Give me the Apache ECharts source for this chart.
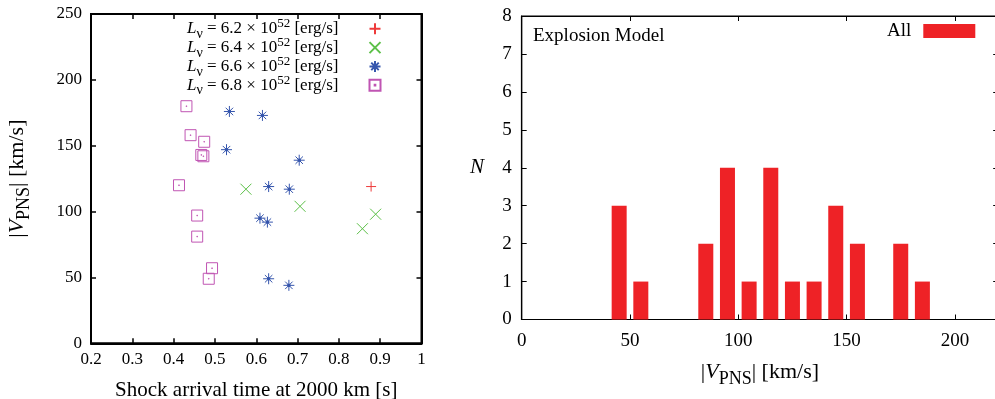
<!DOCTYPE html>
<html><head><meta charset="utf-8">
<script src="https://cdn.jsdelivr.net/npm/echarts@6/dist/echarts.min.js"></script>
<style>html,body{margin:0;padding:0;background:#fff}#c{width:995px;height:399px}</style>
</head><body><div id="c"></div>
<script>
// ---- data ----
const luminosityLabels = ['6.2', '6.4', '6.6', '6.8'];
const arrivalL62 = [0.878];
const velocityL62 = [119];
const arrivalL64 = [0.575, 0.706, 0.889, 0.857];
const velocityL64 = [117, 104, 98, 87];
const arrivalL66 = [0.535, 0.615, 0.528, 0.704, 0.630, 0.680, 0.609, 0.627, 0.630, 0.679];
const velocityL66 = [176, 173, 147, 139, 119, 117, 95, 92, 49, 44];
const arrivalL68 = [0.431, 0.441, 0.474, 0.467, 0.472, 0.413, 0.457, 0.457, 0.493, 0.485];
const velocityL68 = [180, 158, 153, 143, 142, 120, 97, 81, 57, 49];
const binCenters = [45, 55, 85, 95, 105, 115, 125, 135, 145, 155, 175, 185];
const binCounts = [3, 1, 2, 4, 1, 4, 1, 1, 3, 2, 2, 1];
const histLegend = 'All';
const panelText = 'Explosion Model';

// ---- styling ----
const FONT = 'Liberation Serif';
const colors = ['#ee3b3b', '#5cc048', '#3656ad', '#c055b3'];
const symbols = [
  'path://M0,5L10,5M5,0L5,10',
  'path://M0,0L10,10M0,10L10,0',
  'path://M0,5L10,5M5,0L5,10M1.6,1.6L8.4,8.4M1.6,8.4L8.4,1.6M4,4L6,4L6,6L4,6Z',
  'path://M0,0L10,0L10,10L0,10ZM4.7,4.7L5.3,4.7L5.3,5.3L4.7,5.3Z'
];
const symbolFill = ['transparent', 'transparent', '#3656ad', 'transparent'];
const symbolSizes = [10, 11, 11, 11];
const arrivals = [arrivalL62, arrivalL64, arrivalL66, arrivalL68];
const velocities = [velocityL62, velocityL64, velocityL66, velocityL68];

const zip = (xs, ys) => xs.map((x, i) => [x, ys[i]]);

const nameRich = {
  v: { fontFamily: FONT, fontSize: 22, fontStyle: 'italic', lineHeight: 24, color: '#000' },
  s: { fontFamily: FONT, fontSize: 18, lineHeight: 18, padding: [15, 0, 0, 0], color: '#000' }
};
const vpnsName = '|{v|V}{s|PNS}| [km/s]';

const legendRich = {
  i: { fontFamily: FONT, fontSize: 17, fontStyle: 'italic', lineHeight: 18, color: '#000' },
  n: { fontFamily: FONT, fontSize: 14, lineHeight: 14, padding: [11, 0, 0, 0], color: '#000' },
  p: { fontFamily: FONT, fontSize: 13, lineHeight: 13, padding: [0, 0, 10, 0], color: '#000' },
  g: { width: 26, lineHeight: 18 }
};

const scatterSeries = luminosityLabels.map((lab, k) => ({
  type: 'scatter',
  name: lab,
  xAxisIndex: 0, yAxisIndex: 0,
  data: zip(arrivals[k], velocities[k]),
  symbol: symbols[k],
  symbolSize: symbolSizes[k],
  itemStyle: { color: symbolFill[k], borderColor: colors[k], borderWidth: 1, opacity: 1 },
  emphasis: { disabled: true },
  z: 3 + k
}));

const axisText = (size) => ({ fontFamily: FONT, fontSize: size, color: '#000' });
const tickIn = (w) => ({ show: true, inside: true, length: 5, lineStyle: { color: '#000', width: w } });
const mirrorLine = (w) => ({ show: true, onZero: false, lineStyle: { color: '#000', width: w } });

const chart = echarts.init(document.getElementById('c'), null, { renderer: 'canvas' });
chart.setOption({
  animation: false,
  backgroundColor: '#fff',
  title: {
    text: panelText, left: 533, top: 27, padding: 0,
    textStyle: { fontFamily: FONT, fontSize: 19, fontWeight: 'normal', color: '#000' }
  },
  grid: [
    { left: 91, top: 14, width: 330.5, height: 329.3, outerBoundsMode: 'none', containLabel: false, show: true, borderColor: '#000', borderWidth: 2, backgroundColor: 'transparent' },
    { left: 521.7, top: 16, width: 476.5, height: 303.5, outerBoundsMode: 'none', containLabel: false, show: true, borderColor: '#000', borderWidth: 1.2, backgroundColor: 'transparent' }
  ],
  legend: [
    {
      data: luminosityLabels,
      orient: 'vertical', align: 'right',
      right: 613.5, top: 16.3, padding: 0, itemGap: -6.2,
      itemWidth: 11, itemHeight: 11,
      selectedMode: false,
      textStyle: { fontFamily: FONT, fontSize: 17, lineHeight: 18, color: '#000', rich: legendRich },
      formatter: (name) => '{i|L}{n|ν} = ' + name + ' × 10{p|52} [erg/s]{g|}'
    },
    {
      data: [histLegend],
      orient: 'vertical', align: 'right',
      right: 19.7, top: 21.5, padding: 0,
      itemWidth: 52, itemHeight: 14,
      icon: 'rect', selectedMode: false,
      textStyle: { fontFamily: FONT, fontSize: 19, color: '#000', rich: { g: { width: 7 } } },
      formatter: (name) => name + '{g|}'
    }
  ],
  xAxis: [
    {
      gridIndex: 0, type: 'value', min: 0.2, max: 1, interval: 0.1, position: 'bottom',
      axisLine: mirrorLine(2),
      axisTick: tickIn(1.5),
      axisLabel: Object.assign({ margin: 8 }, axisText(17)),
      splitLine: { show: false },
      name: 'Shock arrival time at 2000 km [s]', nameLocation: 'middle', nameGap: 37,
      nameTextStyle: axisText(21)
    },
    {
      gridIndex: 0, type: 'value', min: 0.2, max: 1, interval: 0.1, position: 'top',
      axisLine: mirrorLine(2),
      axisTick: tickIn(1.5),
      axisLabel: { show: false }, splitLine: { show: false }
    },
    {
      gridIndex: 1, type: 'value', min: 0, max: 220, interval: 50, position: 'bottom',
      axisLine: mirrorLine(1.2),
      axisTick: tickIn(1),
      axisLabel: Object.assign({ margin: 12, formatter: (v) => (v % 50 === 0 ? String(v) : '') }, axisText(19)),
      splitLine: { show: false },
      name: vpnsName, nameLocation: 'middle', nameGap: 26,
      nameTextStyle: Object.assign({ lineHeight: 24, rich: nameRich }, axisText(22))
    },
    {
      gridIndex: 1, type: 'value', min: 0, max: 220, interval: 50, position: 'top',
      axisLine: mirrorLine(1.2),
      axisTick: tickIn(1),
      axisLabel: { show: false }, splitLine: { show: false }
    }
  ],
  yAxis: [
    {
      gridIndex: 0, type: 'value', min: 0, max: 250, interval: 50, position: 'left',
      axisLine: mirrorLine(2),
      axisTick: tickIn(1.5),
      axisLabel: Object.assign({ margin: 9 }, axisText(17)),
      splitLine: { show: false },
      name: vpnsName, nameLocation: 'middle', nameGap: 62, nameRotate: 90,
      nameTextStyle: Object.assign({ lineHeight: 24, rich: nameRich }, axisText(22))
    },
    {
      gridIndex: 0, type: 'value', min: 0, max: 250, interval: 50, position: 'right',
      axisLine: mirrorLine(2),
      axisTick: tickIn(1.5),
      axisLabel: { show: false }, splitLine: { show: false }
    },
    {
      gridIndex: 1, type: 'value', min: 0, max: 8, interval: 1, position: 'left',
      axisLine: mirrorLine(1.2),
      axisTick: tickIn(1),
      axisLabel: Object.assign({ margin: 10 }, axisText(19)),
      splitLine: { show: false },
      name: 'N', nameLocation: 'middle', nameGap: 37.7, nameRotate: 0,
      nameTextStyle: Object.assign({ fontStyle: 'italic' }, axisText(21))
    },
    {
      gridIndex: 1, type: 'value', min: 0, max: 8, interval: 1, position: 'right',
      axisLine: mirrorLine(1.2),
      axisTick: tickIn(1),
      axisLabel: { show: false }, splitLine: { show: false }
    }
  ],
  series: scatterSeries.concat([{
    type: 'bar',
    name: histLegend,
    xAxisIndex: 2, yAxisIndex: 2,
    data: zip(binCenters, binCounts),
    barWidth: 15,
    itemStyle: { color: '#ee2226' },
    emphasis: { disabled: true }
  }])
});
</script>
</body></html>
